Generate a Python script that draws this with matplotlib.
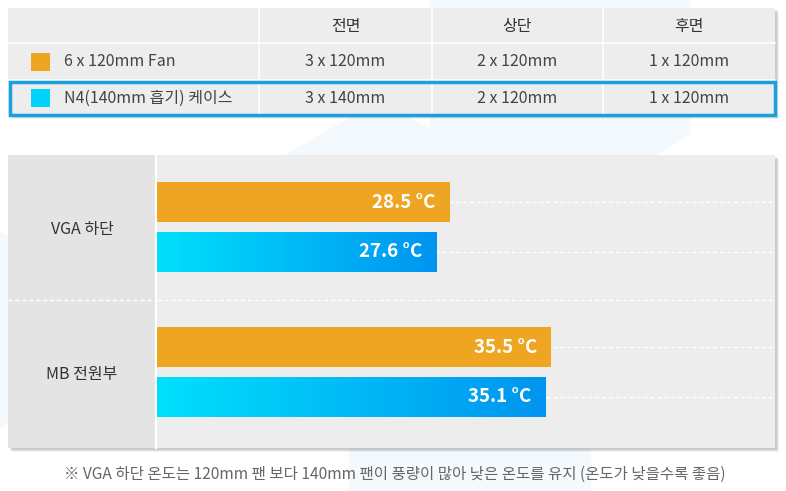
import numpy as np
import matplotlib
matplotlib.use("Agg")
import matplotlib.pyplot as plt
from matplotlib.patches import Rectangle, Polygon
from matplotlib.colors import LinearSegmentedColormap
import matplotlib.transforms as mtransforms

plt.rcParams['font.family'] = ['Noto Sans CJK KR', 'DejaVu Sans']

# Data
table_cols = ['전면', '상단', '후면']
series = ['6 x 120mm Fan', 'N4(140mm 흡기) 케이스']
fan_config = [['3 x 120mm', '2 x 120mm', '1 x 120mm'],
              ['3 x 140mm', '2 x 120mm', '1 x 120mm']]
categories = ['VGA 하단', 'MB 전원부']
temp_6fan = [28.5, 35.5]
temp_n4 = [27.6, 35.1]
footnote = '※ VGA 하단 온도는 120mm 팬 보다 140mm 팬이 풍량이 많아 낮은 온도를 유지 (온도가 낮을수록 좋음)'

ORANGE = '#EEA522'
CYAN = '#00D4FA'
W, H = 786, 491

fig = plt.figure(figsize=(W / 100, H / 100), dpi=100)
fig.patch.set_facecolor('white')

# background axes in pixel coords
bg = fig.add_axes([0, 0, 1, 1])
bg.set_xlim(0, W)
bg.set_ylim(H, 0)
bg.axis('off')

# faint hexagon shapes behind
for cx, cy, r in [(560, 60, 150), (380, 230, 130), (470, 420, 140), (-20, 330, 110)]:
    ang = np.deg2rad(np.arange(0, 360, 60) + 30)
    bg.add_patch(Polygon(np.c_[cx + r * np.cos(ang), cy + r * np.sin(ang)],
                         closed=True, fc='#F3F9FD', ec='none', zorder=0))

# shadows
for off, a in [(4, 0.05), (3, 0.07), (2, 0.09)]:
    bg.add_patch(Rectangle((8 + off, 8 + off), 767, 107, fc='black', alpha=a, ec='none', zorder=1))
    bg.add_patch(Rectangle((8 + off, 155 + off), 767, 293, fc='black', alpha=a, ec='none', zorder=1))

# table
col_x = [8, 259, 432, 603, 775]
row_y = [8, 43, 80, 116]
bg.add_patch(Rectangle((8, 8), 767, 108, fc='#EDEDED', ec='none', zorder=2))
for x in col_x[1:-1]:
    bg.plot([x, x], [8, 116], color='white', lw=1.2, zorder=3)
for y in row_y[1:-1]:
    bg.plot([8, 775], [y, y], color='white', lw=1.2, zorder=3)
for j, c in enumerate(table_cols):
    bg.text((col_x[j + 1] + col_x[j + 2]) / 2, 26, c, ha='center', va='center',
            fontsize=11.5, color='#333333', zorder=4)
for i, name in enumerate(series):
    yc = (row_y[i + 1] + row_y[i + 2]) / 2
    bg.add_patch(Rectangle((31, yc - 9), 19, 18, fc=[ORANGE, CYAN][i], ec='none', zorder=4))
    bg.text(64, yc, name, ha='left', va='center', fontsize=11.5, color='#444444', zorder=4)
    for j, v in enumerate(fan_config[i]):
        bg.text((col_x[j + 1] + col_x[j + 2]) / 2, yc, v, ha='center', va='center',
                fontsize=11.5, color='#444444', zorder=4)
bg.add_patch(Rectangle((9.5, 81.5), 765, 33, fc='none', ec='#1A9FE0', lw=2.5, zorder=5))

# chart panel pieces
bg.add_patch(Rectangle((8, 155), 149, 293, fc='#E4E4E4', ec='none', zorder=2))
bg.plot([156, 156], [155, 448], color='white', lw=1.5, zorder=3)

bg.text(W / 2 + 2, 474, footnote, ha='center', va='center', fontsize=11.2, color='#666666')

# bar axes
ax = fig.add_axes([157 / W, 1 - 448 / H, (775 - 157) / W, 293 / H])
ax.set_facecolor('#EDEDED')
for s in ax.spines.values():
    s.set_visible(False)
ax.set_xticks([])

ypos = np.arange(len(categories))
off, bh = 0.172, 0.276

# dashed guides at bar centres and group separator
for y in ypos:
    for yy in (y - off, y + off):
        ax.axhline(yy, color='white', ls=(0, (3, 2)), lw=1, zorder=1)
ax.axhline(0.5, color='white', ls=(0, (3, 2)), lw=1, zorder=1)
bg.plot([8, 157], [300, 300], color='white', ls=(0, (3, 2)), lw=1, zorder=3)

bars_o = ax.barh(ypos - off, temp_6fan, height=bh, color=ORANGE, zorder=2)
bars_c = ax.barh(ypos + off, temp_n4, height=bh, color='none', zorder=2)

cmap = LinearSegmentedColormap.from_list('cy', ['#00E0FC', '#0094F0'])
grad = np.linspace(0, 1, 256).reshape(1, -1)
for b in bars_c:
    x0, y0 = b.get_x(), b.get_y()
    im = ax.imshow(grad, cmap=cmap, aspect='auto', zorder=2,
                   extent=(max(x0, 8.25), x0 + b.get_width(), y0 + b.get_height(), y0))
    im.set_clip_path(b)

ax.set_xlim(8.25, 51)
ax.set_ylim(1.524, -0.497)

trans = mtransforms.offset_copy(ax.transData, fig=fig, x=-14 * 0.72, y=0, units='points')
for vals, dy in [(temp_6fan, -off), (temp_n4, off)]:
    for y, v in zip(ypos, vals):
        ax.text(v, y + dy, f'{v} °C', ha='right', va='center', color='white',
                fontsize=13.5, fontweight='bold', transform=trans, zorder=4)

ax.set_yticks(ypos)
ax.set_yticklabels(categories, fontsize=11.5, color='#333333', ha='center')
ax.tick_params(axis='y', length=0, pad=54)

fig.savefig('out.png', dpi=100)
